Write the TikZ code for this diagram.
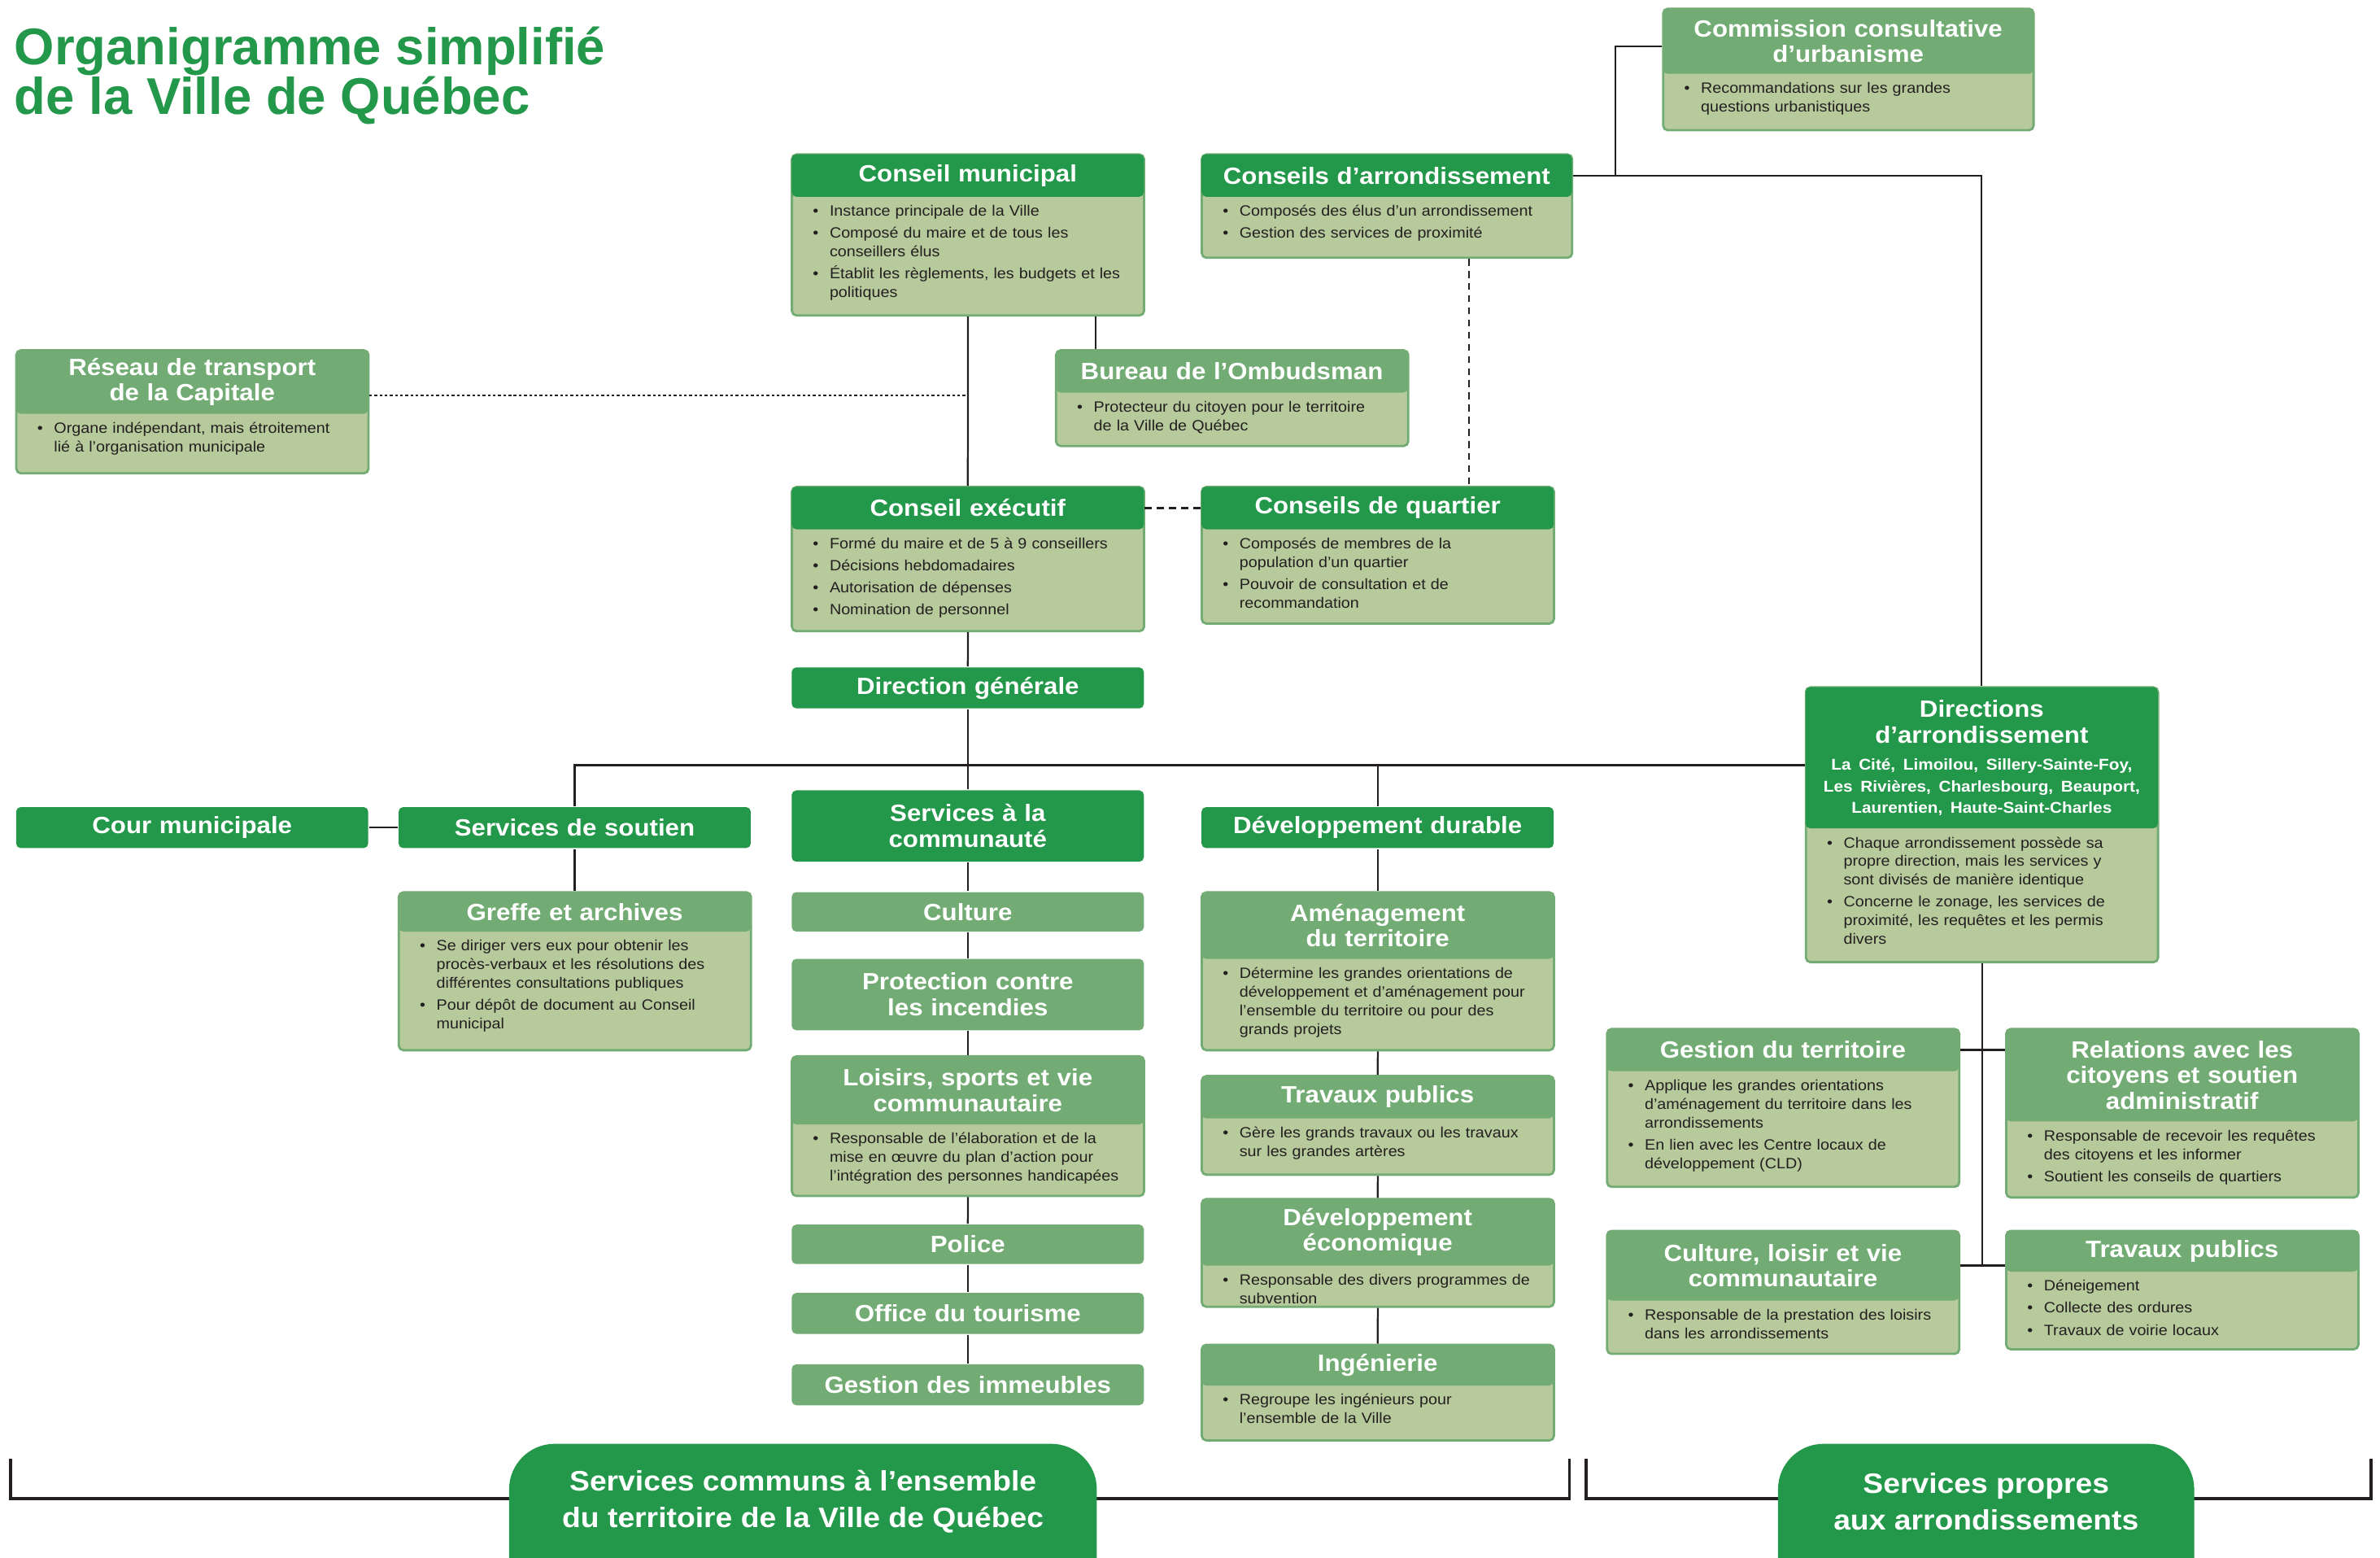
\documentclass[tikz,border=0pt]{standalone}
\usepackage{fontspec}
\setmainfont{Liberation Sans}[FakeStretch=1.08]
\newfontfamily\titlefont{Liberation Sans}
\usetikzlibrary{backgrounds}

\definecolor{vqdark}{RGB}{36,152,74}
\definecolor{vqlight}{RGB}{114,172,116}
\definecolor{vqbody}{RGB}{183,202,156}
\definecolor{vqline}{RGB}{35,31,32}

\newcommand\hdrfont{\bfseries\fontsize{15.5}{17}\selectfont}
\newcommand\distfont{\bfseries\fontsize{10.3}{14}\selectfont}
\newcommand\bodyfont{\fontsize{9.8}{12.3}\selectfont}
\newcommand\bitem[1]{\par\hangindent=11pt\hangafter=1\noindent\hbox to 11pt{\textbullet\hss}#1\par\vspace{2.2pt}}

\tikzset{every picture/.style={line width=1.2pt}}
\tikzset{
  boxbody/.style={draw=vqlight, line width=1.5pt, fill=vqbody, rounded corners=3pt, anchor=north west, inner sep=0pt, minimum width=232pt},
  hdrdark/.style={fill=vqdark, text=white, rounded corners=3pt, anchor=north west, inner sep=0pt, text width=232pt, align=center, font=\hdrfont},
  hdrlight/.style={hdrdark, fill=vqlight},
  bullets/.style={anchor=north west, inner sep=0pt, text width=250pt, align=left, font=\bodyfont, text=vqline},
  link/.style={draw=vqline, line width=1.2pt},
  dashlink/.style={link, dash pattern=on 4.5pt off 3.5pt},
  dotlink/.style={link, dash pattern=on 1.8pt off 1.6pt},
  bottomlabel/.style={text=white, font=\bfseries\fontsize{18.5}{24}\selectfont, align=center, inner sep=0pt, minimum height=75pt, anchor=north},
}

\begin{document}
\begin{tikzpicture}[x=1pt,y=1pt,yscale=-1]
\useasboundingbox (0,0) rectangle (1568,1026);

% Titre
\node[anchor=north west, inner sep=0pt, align=left, text=vqdark, font=\titlefont\bfseries\fontsize{34}{33}\selectfont] (titre) at (9,17) {Organigramme simplifié\\de la Ville de Québec};

% Conseil municipal
\node[boxbody, minimum height=106pt] (cm) at (521,101) {};
\node[hdrdark, minimum height=28pt] (cm-h) at (521,101) {Conseil municipal};
\node[bullets] (cm-t) at (535,129.5) {\bitem{Instance principale de la Ville}\bitem{Composé du maire et de tous les\newline conseillers élus}\bitem{Établit les règlements, les budgets et les\newline politiques}};

% Conseils d'arrondissement
\node[boxbody, minimum width=244pt, minimum height=68pt] (ca) at (791,101) {};
\node[hdrdark, text width=244pt, minimum height=28pt] (ca-h) at (791,101) {Conseils d’arrondissement};
\node[bullets] (ca-t) at (805,129.5) {\bitem{Composés des élus d’un arrondissement}\bitem{Gestion des services de proximité}};

% Commission consultative d'urbanisme
\node[boxbody, minimum width=244pt, minimum height=80pt] (cc) at (1095,5) {};
\node[hdrlight, text width=244pt, minimum height=43pt] (cc-h) at (1095,5) {Commission consultative\\d’urbanisme};
\node[bullets] (cc-t) at (1109,48.5) {\bitem{Recommandations sur les grandes\newline questions urbanistiques}};

% Reseau de transport de la Capitale
\node[boxbody, minimum height=81pt] (rt) at (10,230) {};
\node[hdrlight, minimum height=42pt] (rt-h) at (10,230) {Réseau de transport\\de la Capitale};
\node[bullets] (rt-t) at (24,272.5) {\bitem{Organe indépendant, mais étroitement\newline lié à l’organisation municipale}};

% Bureau de l'Ombudsman
\node[boxbody, minimum height=63pt] (bo) at (695,230) {};
\node[hdrlight, minimum height=28pt] (bo-h) at (695,230) {Bureau de l’Ombudsman};
\node[bullets] (bo-t) at (709,258.5) {\bitem{Protecteur du citoyen pour le territoire\newline de la Ville de Québec}};

% Conseil executif
\node[boxbody, minimum height=95pt] (ce) at (521,320) {};
\node[hdrdark, minimum height=28pt] (ce-h) at (521,320) {Conseil exécutif};
\node[bullets] (ce-t) at (535,348.5) {\bitem{Formé du maire et de 5 à 9 conseillers}\bitem{Décisions hebdomadaires}\bitem{Autorisation de dépenses}\bitem{Nomination de personnel}};

% Conseils de quartier
\node[boxbody, minimum height=90pt] (cq) at (791,320) {};
\node[hdrdark, minimum height=28pt] (cq-h) at (791,320) {Conseils de quartier};
\node[bullets] (cq-t) at (805,348.5) {\bitem{Composés de membres de la\newline population d’un quartier}\bitem{Pouvoir de consultation et de\newline recommandation}};

% Direction generale
\node[hdrdark, minimum height=27pt] (dg) at (521,439) {Direction générale};

% Directions d'arrondissement
\node[boxbody, minimum height=181pt] (da) at (1189,452) {};
\node[hdrdark, minimum height=93pt] (da-h) at (1189,452) {Directions\\d’arrondissement\par\vspace{4pt}\distfont\mbox{La Cité, Limoilou, Sillery-Sainte-Foy,}\\\mbox{Les Rivières, Charlesbourg, Beauport,}\\\mbox{Laurentien, Haute-Saint-Charles}\par};
\node[bullets] (da-t) at (1203,545.5) {\bitem{Chaque arrondissement possède sa\newline propre direction, mais les services y\newline sont divisés de manière identique}\bitem{Concerne le zonage, les services de\newline proximité, les requêtes et les permis\newline divers}};

% Services de premier niveau
\node[hdrdark, minimum height=27pt] (cour) at (10,531) {Cour municipale};
\node[hdrdark, minimum height=27pt] (ss) at (262,531) {Services de soutien};
\node[hdrdark, minimum height=47pt] (sc) at (521,520) {Services à la\\communauté};
\node[hdrdark, minimum height=27pt] (dd) at (791,531) {Développement durable};

% Greffe et archives
\node[boxbody, minimum height=104pt] (ga) at (262,587) {};
\node[hdrlight, minimum height=26pt] (ga-h) at (262,587) {Greffe et archives};
\node[bullets] (ga-t) at (276,613.5) {\bitem{Se diriger vers eux pour obtenir les\newline procès-verbaux et les résolutions des\newline différentes consultations publiques}\bitem{Pour dépôt de document au Conseil\newline municipal}};

% Services a la communaute
\node[hdrlight, minimum height=26pt] (cu) at (521,587) {Culture};
\node[hdrlight, minimum height=47pt] (pi) at (521,631) {Protection contre\\les incendies};
\node[boxbody, minimum height=92pt] (lo) at (521,695) {};
\node[hdrlight, minimum height=45pt] (lo-h) at (521,695) {Loisirs, sports et vie\\communautaire};
\node[bullets] (lo-t) at (535,740.5) {\bitem{Responsable de l’élaboration et de la\newline mise en œuvre du plan d’action pour\newline l’intégration des personnes handicapées}};
\node[hdrlight, minimum height=26pt] (po) at (521,806) {Police};
\node[hdrlight, minimum height=27pt] (ot) at (521,851) {Office du tourisme};
\node[hdrlight, minimum height=27pt] (gi) at (521,898) {Gestion des immeubles};

% Developpement durable
\node[boxbody, minimum height=104pt] (am) at (791,587) {};
\node[hdrlight, minimum height=44pt] (am-h) at (791,587) {Aménagement\\du territoire};
\node[bullets] (am-t) at (805,631.5) {\bitem{Détermine les grandes orientations de\newline développement et d’aménagement pour\newline l’ensemble du territoire ou pour des\newline grands projets}};
\node[boxbody, minimum height=65pt] (tp) at (791,708) {};
\node[hdrlight, minimum height=28pt] (tp-h) at (791,708) {Travaux publics};
\node[bullets] (tp-t) at (805,736.5) {\bitem{Gère les grands travaux ou les travaux\newline sur les grandes artères}};
\node[boxbody, minimum height=71pt] (de) at (791,789) {};
\node[hdrlight, minimum height=44pt] (de-h) at (791,789) {Développement\\économique};
\node[bullets] (de-t) at (805,833.5) {\bitem{Responsable des divers programmes de\newline subvention}};
\node[boxbody, minimum height=63pt] (in) at (791,885) {};
\node[hdrlight, minimum height=27pt] (in-h) at (791,885) {Ingénierie};
\node[bullets] (in-t) at (805,912.5) {\bitem{Regroupe les ingénieurs pour\newline l’ensemble de la Ville}};

% Services propres aux arrondissements
\node[boxbody, minimum height=104pt] (gt) at (1058,677) {};
\node[hdrlight, minimum height=28pt] (gt-h) at (1058,677) {Gestion du territoire};
\node[bullets] (gt-t) at (1072,705.5) {\bitem{Applique les grandes orientations\newline d’aménagement du territoire dans les\newline arrondissements}\bitem{En lien avec les Centre locaux de\newline développement (CLD)}};
\node[boxbody, minimum height=111pt] (ra) at (1321,677) {};
\node[hdrlight, minimum height=61pt] (ra-h) at (1321,677) {Relations avec les\\citoyens et soutien\\administratif};
\node[bullets] (ra-t) at (1335,738.5) {\bitem{Responsable de recevoir les requêtes\newline des citoyens et les informer}\bitem{Soutient les conseils de quartiers}};
\node[boxbody, minimum height=81pt] (cl) at (1058,810) {};
\node[hdrlight, minimum height=46pt] (cl-h) at (1058,810) {Culture, loisir et vie\\communautaire};
\node[bullets] (cl-t) at (1072,856.5) {\bitem{Responsable de la prestation des loisirs\newline dans les arrondissements}};
\node[boxbody, minimum height=78pt] (tr) at (1321,810) {};
\node[hdrlight, minimum height=27pt] (tr-h) at (1321,810) {Travaux publics};
\node[bullets] (tr-t) at (1335,837.5) {\bitem{Déneigement}\bitem{Collecte des ordures}\bitem{Travaux de voirie locaux}};

% Liens
\draw[link] (cm.south) -- (ce-h.north);
\draw[link] ([xshift=84pt]cm.south) -- ([xshift=84pt]cm.south |- bo-h.north);
\draw[dotlink] ([yshift=9pt]rt-h.east) -- ([yshift=9pt]rt-h.east -| cm.south);
\draw[dashlink] ([xshift=54pt]ca.south) -- ([xshift=54pt]ca.south |- cq-h.north);
\draw[dashlink] (ce-h.east) -- (cq-h.west);
\draw[link] (ca-h.east) -| (da-h.north);
\draw[link] ([yshift=3.5pt]cc-h.west) -| ([xshift=28pt]ca-h.east);
\draw[link] (ce.south) -- (dg.north);
\draw[link] (dg.south) -- (sc.north);
\coordinate (bus) at (637,504);
\draw[link] (ss.north) |- (bus -| da-h.west);
\draw[link] (dd.north) -- (dd.north |- bus);
\draw[link] (cour.east) -- (ss.west);
\draw[link] (ss.south) -- (ga-h.north);
\draw[link] (sc.south) -- (cu.north);
\draw[link] (cu.south) -- (pi.north);
\draw[link] (pi.south) -- (lo-h.north);
\draw[link] (lo.south) -- (po.north);
\draw[link] (po.south) -- (ot.north);
\draw[link] (ot.south) -- (gi.north);
\draw[link] (dd.south) -- (am-h.north);
\draw[link] (am.south) -- (tp-h.north);
\draw[link] (tp.south) -- (de-h.north);
\draw[link] (de.south) -- (in-h.north);
\draw[link] (da.south) |- (cl-h.east);
\draw[link] (gt-h.east) -- (gt-h.east -| ra-h.west);
\draw[link] (cl-h.east) -- (cl-h.east -| tr-h.west);

% Bas de page
\node[bottomlabel, minimum width=386pt] (communs) at (529,951) {Services communs à l’ensemble\\du territoire de la Ville de Québec};
\node[bottomlabel, minimum width=273pt] (propres) at (1308.5,951) {Services propres\\aux arrondissements};
\begin{scope}[on background layer]
\draw[link, line width=1.8pt] (7,961) -- (7,987) -- (1034,987) -- (1034,961);
\draw[link, line width=1.8pt] (1045,961) -- (1045,987) -- (1562,987) -- (1562,961);
\fill[vqdark, rounded corners=30pt] (communs.north west) rectangle ([yshift=60pt]communs.south east);
\fill[vqdark, rounded corners=30pt] (propres.north west) rectangle ([yshift=60pt]propres.south east);
\end{scope}

\end{tikzpicture}
\end{document}
